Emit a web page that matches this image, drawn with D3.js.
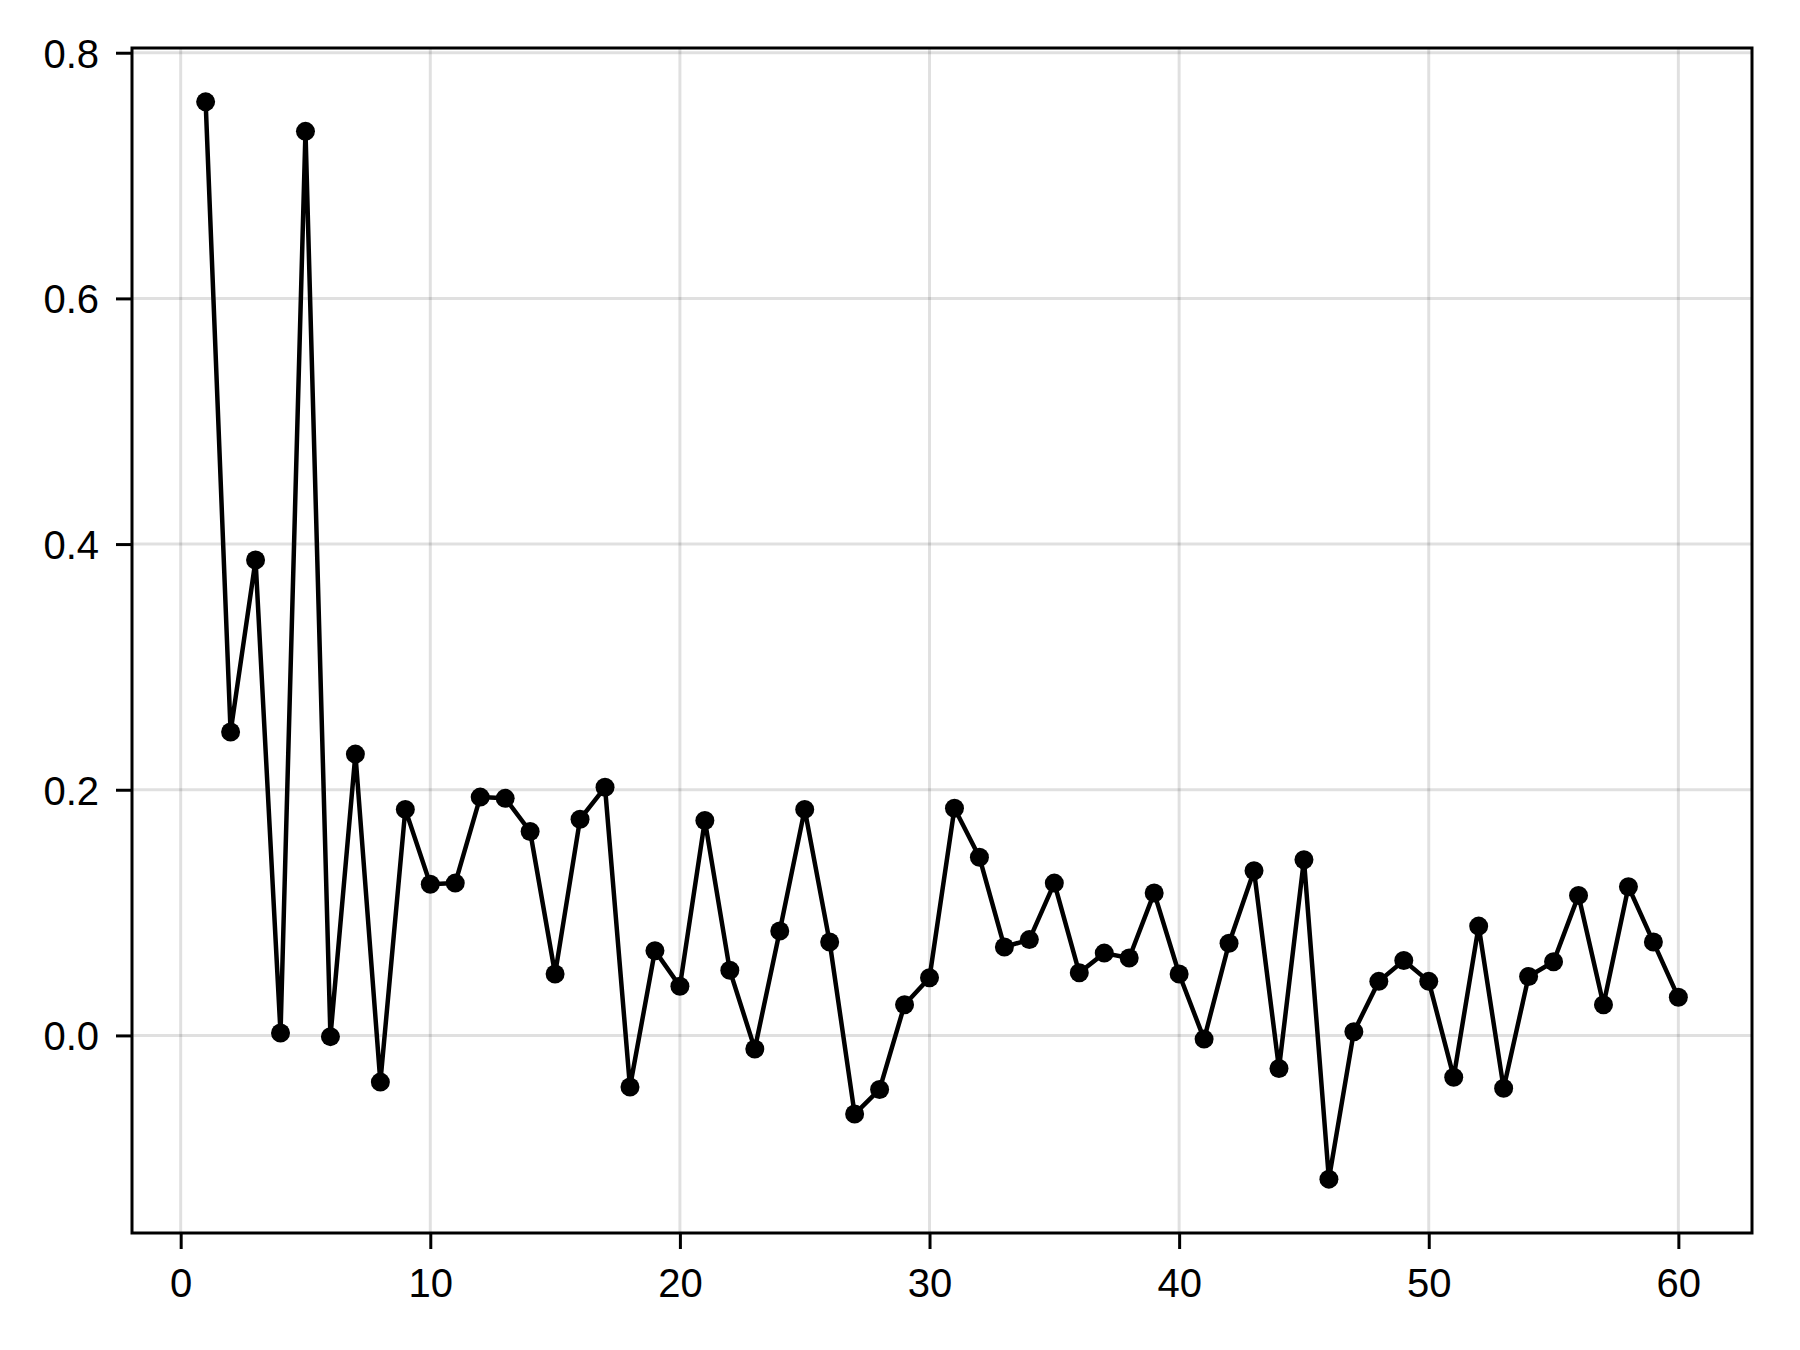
<!DOCTYPE html>
<html>
<head>
<meta charset="utf-8">
<script src="https://cdn.jsdelivr.net/npm/d3@7"></script>
<style>
  body { margin: 0; background: #fff; }
  .tickLbl { font-family: "Liberation Sans", Arial, sans-serif; font-size: 40px; fill: #000; }
</style>
</head>
<body>
<div id="chart"></div>
<script>
var xValues = [];
for (var i = 1; i <= 60; i++) { xValues.push(i); }

var yValues = [
  0.760, 0.247, 0.387, 0.002, 0.736, -0.001, 0.229, -0.038, 0.184, 0.123,
  0.124, 0.194, 0.193, 0.166, 0.050, 0.176, 0.202, -0.042, 0.069, 0.040,
  0.175, 0.053, -0.011, 0.085, 0.184, 0.076, -0.064, -0.044, 0.025, 0.047,
  0.185, 0.145, 0.072, 0.078, 0.124, 0.051, 0.067, 0.063, 0.116, 0.050,
  -0.003, 0.075, 0.134, -0.027, 0.143, -0.117, 0.003, 0.044, 0.061, 0.044,
  -0.034, 0.089, -0.043, 0.048, 0.060, 0.114, 0.025, 0.121, 0.076, 0.031
];

var xTicks = [0, 10, 20, 30, 40, 50, 60];
var yTicks = [0.0, 0.2, 0.4, 0.6, 0.8];

(function () {
  'use strict'

  var W = 1800, H = 1350;
  var margin = {top: 48, right: 48, bottom: 117, left: 132};
  var width = W - margin.left - margin.right,
      height = H - margin.top - margin.bottom;

  // makie style autolimits: 5% padding on each side
  var xExt = d3.extent(xValues), yExt = d3.extent(yValues);
  var xPad = (xExt[1] - xExt[0]) * 0.05, yPad = (yExt[1] - yExt[0]) * 0.05;

  var x = d3.scaleLinear().domain([xExt[0] - xPad, xExt[1] + xPad]).range([0, width]);
  var y = d3.scaleLinear().domain([yExt[0] - yPad, yExt[1] + yPad]).range([height, 0]);

  var svg = d3.select("#chart").append("svg")
      .attr("width", W)
      .attr("height", H)
      .append("g")
      .attr("transform", "translate(" + margin.left + "," + margin.top + ")");

  // grid
  svg.append("g").selectAll("line")
    .data(xTicks).enter().append("line")
    .attr("x1", function(d) { return x(d); })
    .attr("x2", function(d) { return x(d); })
    .attr("y1", 0).attr("y2", height)
    .attr("stroke", "rgba(0,0,0,0.12)").attr("stroke-width", 3);

  svg.append("g").selectAll("line")
    .data(yTicks).enter().append("line")
    .attr("y1", function(d) { return y(d); })
    .attr("y2", function(d) { return y(d); })
    .attr("x1", 0).attr("x2", width)
    .attr("stroke", "rgba(0,0,0,0.12)").attr("stroke-width", 3);

  // line + points
  var line = d3.line()
    .x(function(d, i) { return x(xValues[i]); })
    .y(function(d) { return y(d); });

  svg.append("path")
    .datum(yValues)
    .attr("d", line)
    .attr("fill", "none")
    .attr("stroke", "#000")
    .attr("stroke-width", 4.5)
    .attr("stroke-linejoin", "round");

  svg.append("g").selectAll("circle")
    .data(yValues).enter().append("circle")
    .attr("cx", function(d, i) { return x(xValues[i]); })
    .attr("cy", function(d) { return y(d); })
    .attr("r", 9.5)
    .attr("fill", "#000");

  // frame
  svg.append("rect")
    .attr("x", 0).attr("y", 0)
    .attr("width", width).attr("height", height)
    .attr("fill", "none").attr("stroke", "#000").attr("stroke-width", 3);

  // axes
  var xAxis = svg.append("g")
    .attr("transform", "translate(0," + height + ")")
    .call(d3.axisBottom(x).tickValues(xTicks).tickSize(16).tickPadding(6).tickFormat(d3.format("d")));
  var yAxis = svg.append("g")
    .call(d3.axisLeft(y).tickValues(yTicks).tickSize(16).tickPadding(17).tickFormat(d3.format(".1f")));

  [xAxis, yAxis].forEach(function(ax) {
    ax.select(".domain").remove();
    ax.selectAll(".tick line").attr("stroke", "#000").attr("stroke-width", 3);
    ax.selectAll(".tick text").attr("class", "tickLbl").attr("fill", "#000");
  });
  xAxis.selectAll(".tick text").attr("dy", null).attr("y", 0)
    .attr("transform", "translate(0," + 64 + ")");
  yAxis.selectAll(".tick text").attr("dy", "0.36em");
})()
</script>
</body>
</html>
